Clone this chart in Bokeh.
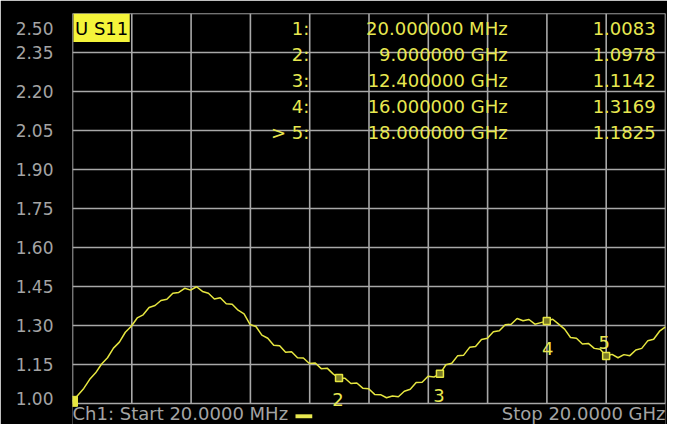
from bokeh.plotting import figure
from bokeh.models import Range1d, FixedTicker, ColumnDataSource
from bokeh.embed import file_html
from bokeh.resources import INLINE
from bokeh.core.properties import value

# ---------------- data ----------------
freq_ghz = [0.02,
    0.2, 0.4, 0.6, 0.8, 1.0, 1.2, 1.4, 1.6, 1.8, 2.0,
    2.2, 2.4, 2.6, 2.8, 3.0, 3.2, 3.4, 3.6, 3.8, 4.0,
    4.2, 4.4, 4.6, 4.8, 5.0, 5.2, 5.4, 5.6, 5.8, 6.0,
    6.2, 6.4, 6.6, 6.8, 7.0, 7.2, 7.4, 7.6, 7.8, 8.0,
    8.2, 8.4, 8.6, 8.8, 9.0, 9.2, 9.4, 9.6, 9.8, 10.0,
    10.2, 10.4, 10.6, 10.8, 11.0, 11.2, 11.4, 11.6, 11.8, 12.0,
    12.2, 12.4, 12.6, 12.8, 13.0, 13.2, 13.4, 13.6, 13.8, 14.0,
    14.2, 14.4, 14.6, 14.8, 15.0, 15.2, 15.4, 15.6, 15.8, 16.0,
    16.2, 16.4, 16.6, 16.8, 17.0, 17.2, 17.4, 17.6, 17.8, 18.0,
    18.2, 18.4, 18.6, 18.8, 19.0, 19.2, 19.4, 19.6, 19.8, 20.0]

vswr = [1.008,
    1.032, 1.058, 1.093, 1.118, 1.152, 1.176, 1.213, 1.236, 1.274, 1.297,
    1.329, 1.341, 1.369, 1.377, 1.396, 1.401, 1.424, 1.427, 1.443, 1.436,
    1.449, 1.431, 1.424, 1.402, 1.407, 1.384, 1.382, 1.359, 1.345, 1.304,
    1.296, 1.263, 1.251, 1.224, 1.222, 1.197, 1.199, 1.176, 1.175, 1.154,
    1.156, 1.134, 1.136, 1.114, 1.098, 1.097, 1.077, 1.079, 1.059, 1.057,
    1.035, 1.034, 1.022, 1.029, 1.026, 1.047, 1.055, 1.081, 1.082, 1.105,
    1.102, 1.114, 1.149, 1.155, 1.184, 1.186, 1.216, 1.219, 1.246, 1.251,
    1.276, 1.280, 1.303, 1.305, 1.327, 1.318, 1.323, 1.305, 1.311, 1.317,
    1.324, 1.305, 1.286, 1.254, 1.251, 1.229, 1.231, 1.212, 1.209, 1.1825,
    1.189, 1.176, 1.188, 1.184, 1.206, 1.212, 1.241, 1.247, 1.278, 1.295]

marker_ids = ["1", "2", "3", "4", "5"]
marker_row_labels = ["1:", "2:", "3:", "4:", "> 5:"]
marker_freq_ghz = [0.02, 9.0, 12.4, 16.0, 18.0]
marker_vswr = [1.0083, 1.0978, 1.1142, 1.3169, 1.1825]
marker_freq_text = ["20.000000 MHz", "9.000000 GHz", "12.400000 GHz",
                    "16.000000 GHz", "18.000000 GHz"]
marker_value_text = ["1.0083", "1.0978", "1.1142", "1.3169", "1.1825"]

y_tick_values = [1.00, 1.15, 1.30, 1.45, 1.60, 1.75, 1.90, 2.05, 2.20, 2.35, 2.50]
y_tick_labels = ["1.00", "1.15", "1.30", "1.45", "1.60", "1.75",
                 "1.90", "2.05", "2.20", "2.35", "2.50"]

trace_name = "U S11"
start_text = "Ch1: Start 20.0000 MHz"
stop_text = "Stop 20.0000 GHz"

X_START, X_STOP = 0.02, 20.0
Y_MIN, Y_MAX = 1.00, 2.50
N_XDIV = 10

# ---------------- layout ----------------
W, H = 667, 424
# reference-picture pixel positions of the graticule
R_L, R_R, R_T, R_B = 72, 673, 13, 410
# figure pixel positions of the graticule
F_L, F_R, F_T, F_B = 72, 665, 13, 403


def dx(rx):
    """reference x pixel -> data x"""
    return X_START + (rx - R_L) * (X_STOP - X_START) / (R_R - R_L)


def dy(ry):
    """reference y pixel -> data y"""
    return Y_MAX - (ry - R_T) * (Y_MAX - Y_MIN) / (R_B - R_T)


def dy_fig(fy):
    return Y_MAX - (fy - F_T) * (Y_MAX - Y_MIN) / (F_B - F_T)


FONT = "DejaVu Sans"
YELLOW = "#e8e850"
TRACE = "#e6e640"
GREY = "#a4a4a4"
GRID = "#a8a8a8"

p = figure(width=W, height=H, output_backend="svg", toolbar_location=None,
           x_range=Range1d(X_START, X_STOP), y_range=Range1d(dy_fig(H), Y_MAX),
           x_axis_location=None, min_border_left=F_L, min_border_right=W - F_R,
           min_border_top=F_T, min_border_bottom=0)
p.background_fill_color = "black"
p.border_fill_color = "black"
p.outline_line_color = None
for g in p.grid:
    g.visible = False

# y axis labels
label_pos = list(y_tick_values)
label_pos[0] = dy(405)
label_pos[-1] = dy(28.5)
ax = p.yaxis[0]
ax.ticker = FixedTicker(ticks=label_pos, minor_ticks=[])
ax.major_label_overrides = {pos: lab for pos, lab in zip(label_pos, y_tick_labels)}
ax.axis_line_color = None
ax.major_tick_line_color = None
ax.minor_tick_line_color = None
ax.major_tick_out = 0
ax.major_tick_in = 0
ax.major_label_standoff = 19
ax.major_label_text_font = FONT
ax.major_label_text_font_size = "17px"
ax.major_label_text_color = GREY

# grid lines
gx = [X_START + k * (X_STOP - X_START) / N_XDIV for k in range(N_XDIV + 1)]
p.segment(x0=gx, x1=gx, y0=[Y_MIN] * len(gx), y1=[Y_MAX] * len(gx),
          line_color=GRID, line_width=1.6)
p.segment(x0=[X_START] * len(y_tick_values), x1=[X_STOP] * len(y_tick_values),
          y0=y_tick_values, y1=y_tick_values, line_color=GRID, line_width=1.6)

# trace
p.line(freq_ghz, vswr, line_color=TRACE, line_width=1.5)

# markers
p.square(marker_freq_ghz[:1], marker_vswr[:1], size=10, fill_color=TRACE, line_color=TRACE)
p.square(marker_freq_ghz[1:], marker_vswr[1:], size=7, fill_color="#7a7a26",
         line_color=TRACE, line_width=1.5)
num_src = ColumnDataSource(dict(x=marker_freq_ghz[1:], y=marker_vswr[1:], t=marker_ids[1:],
                                xo=[-1, -1, 1, -2], yo=[21, 22, 27, -14]))
p.text(x="x", y="y", text="t", x_offset="xo", y_offset="yo", source=num_src,
       text_font=value(FONT), text_font_size=value("18px"), text_color=YELLOW,
       text_align="center", text_baseline="middle")

# marker table
rows_y = [dy(28.5 + 26.3 * i) for i in range(len(marker_ids))]
common = dict(text_font=value(FONT), text_font_size=value("18px"), text_color=YELLOW,
              text_align="right", text_baseline="middle")
p.text(x=[dx(312)] * 5, y=rows_y, text=marker_row_labels, **common)
p.text(x=[dx(513)] * 5, y=rows_y, text=marker_freq_text, **common)
p.text(x=[dx(663)] * 5, y=rows_y, text=marker_value_text, **common)

# trace name box
p.quad(left=[dx(73)], right=[dx(130)], top=[dy(13)], bottom=[dy(42)],
       fill_color="#f4f43a", line_color=None)
p.text(x=[dx(101.5)], y=[dy(28)], text=[trace_name], text_font=value(FONT),
       text_font_size=value("18px"), text_color="black",
       text_align="center", text_baseline="middle")

# footer
p.text(x=[dx(72)], y=[dy(420)], text=[start_text], text_font=value(FONT),
       text_font_size=value("18px"), text_color=GREY, text_align="left",
       text_baseline="middle")
p.text(x=[dx(673)], y=[dy(420)], text=[stop_text], text_font=value(FONT),
       text_font_size=value("18px"), text_color=GREY, text_align="right",
       text_baseline="middle")
p.quad(left=[dx(298)], right=[dx(315)], top=[dy(421)], bottom=[dy(425)],
       fill_color=YELLOW, line_color=None)

open("out.html", "w").write(file_html(p, INLINE))
